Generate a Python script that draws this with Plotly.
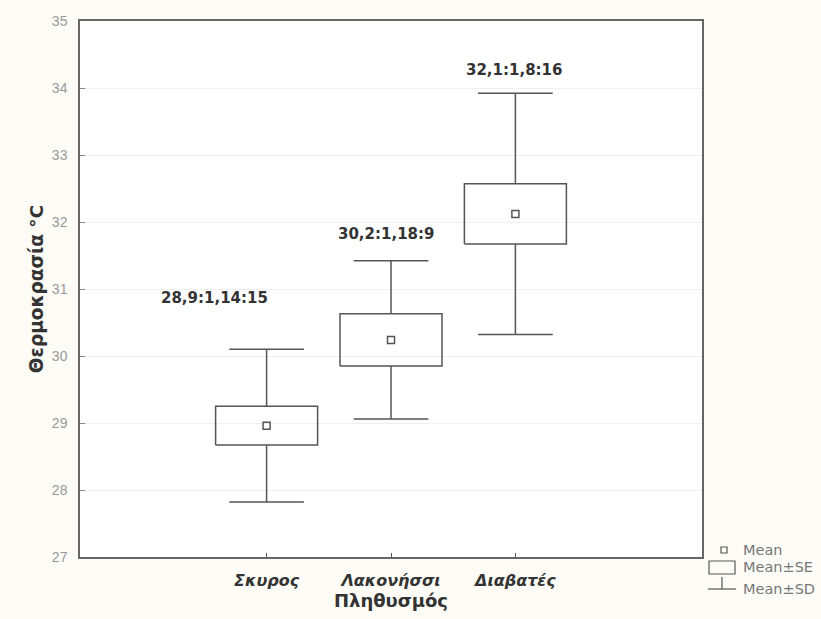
import plotly.graph_objects as go

# ---- data ----
categories = ["Σκυρος", "Λακονήσσι", "Διαβατές"]
cat_pos = [1.5, 2.5, 3.5]
means = [28.96, 30.24, 32.12]
se = [0.29, 0.39, 0.45]
sd = [1.14, 1.18, 1.80]
stat_labels = ["28,9:1,14:15", "30,2:1,18:9", "32,1:1,8:16"]
y_ticks = [27, 28, 29, 30, 31, 32, 33, 34, 35]

# ---- layout constants ----
label_x = [1.08, 2.46, 3.49]
label_y = [30.87, 31.82, 34.27]
BOX_HW = 0.41
CAP_HW = 0.30
LINE = "#555555"
FONT = "DejaVu Sans"

box_x, box_y, wh_x, wh_y = [], [], [], []
for c, m, s, d in zip(cat_pos, means, se, sd):
    box_x += [c - BOX_HW, c + BOX_HW, c + BOX_HW, c - BOX_HW, c - BOX_HW, None]
    box_y += [m - s, m - s, m + s, m + s, m - s, None]
    # upper whisker + cap
    wh_x += [c, c, None, c - CAP_HW, c + CAP_HW, None]
    wh_y += [m + s, m + d, None, m + d, m + d, None]
    # lower whisker + cap
    wh_x += [c, c, None, c - CAP_HW, c + CAP_HW, None]
    wh_y += [m - s, m - d, None, m - d, m - d, None]

fig = go.Figure()
fig.add_trace(go.Scatter(x=wh_x, y=wh_y, mode="lines",
                         line=dict(color=LINE, width=1.5), hoverinfo="skip"))
fig.add_trace(go.Scatter(x=box_x, y=box_y, mode="lines",
                         line=dict(color=LINE, width=1.5), hoverinfo="skip"))
fig.add_trace(go.Scatter(x=cat_pos, y=means, mode="markers",
                         marker=dict(symbol="square-open", size=7,
                                     color=LINE, line=dict(width=1.5))))

for lx, ly, t in zip(label_x, label_y, stat_labels):
    fig.add_annotation(x=lx, y=ly, text="<b>" + t + "</b>", showarrow=False,
                       font=dict(family=FONT, size=15, color="#333333"))

# legend (drawn manually, paper coords)
def px(x):
    return (x - 80) / 622

def py(y):
    return (557 - y) / 536

shp = dict(xref="paper", yref="paper", line=dict(color=LINE, width=1.2))
fig.add_shape(type="rect", x0=px(721), x1=px(727), y0=py(553), y1=py(547), **shp)
fig.add_shape(type="rect", x0=px(709), x1=px(735), y0=py(561), y1=py(574), **shp)
fig.add_shape(type="line", x0=px(722), x1=px(722), y0=py(577), y1=py(589), **shp)
fig.add_shape(type="line", x0=px(708), x1=px(736), y0=py(589), y1=py(589), **shp)
for ty, txt in [(550, "Mean"), (567, "Mean±SE"), (589, "Mean±SD")]:
    fig.add_annotation(xref="paper", yref="paper", x=px(741), y=py(ty),
                       xanchor="left", yanchor="middle", showarrow=False,
                       text=txt, font=dict(family=FONT, size=14.5,
                                           color="#777777"))

fig.update_layout(
    width=821, height=619,
    margin=dict(l=80, r=119, t=21, b=62),
    paper_bgcolor="#fdfcf7",
    plot_bgcolor="#ffffff",
    showlegend=False,
    xaxis=dict(range=[0, 5], tickmode="array", tickvals=cat_pos,
               ticktext=["<b><i>" + c + "</i></b>" for c in categories],
               tickfont=dict(family=FONT, size=16, color="#333333"),
               ticks="inside", ticklen=4, tickcolor=LINE,
               ticklabelstandoff=8,
               showgrid=False, zeroline=False,
               showline=True, linecolor="#666666", linewidth=1.5, mirror=True,
               title=dict(text="<b>Πληθυσμός</b>", standoff=3,
                          font=dict(family=FONT, size=18, color="#333333"))),
    yaxis=dict(range=[27, 35], tickmode="array", tickvals=y_ticks,
               tickfont=dict(family="Liberation Sans", size=14, color="#999999"),
               ticks="inside", ticklen=5, tickcolor="#888888",
               ticklabelstandoff=8,
               showgrid=True, gridcolor="#efefef", gridwidth=1,
               zeroline=False,
               showline=True, linecolor="#666666", linewidth=1.5, mirror=True,
               title=dict(text="<b>Θερμοκρασία °C</b>", standoff=3,
                          font=dict(family=FONT, size=18.5, color="#333333"))),
)

fig.write_html("out.html")
